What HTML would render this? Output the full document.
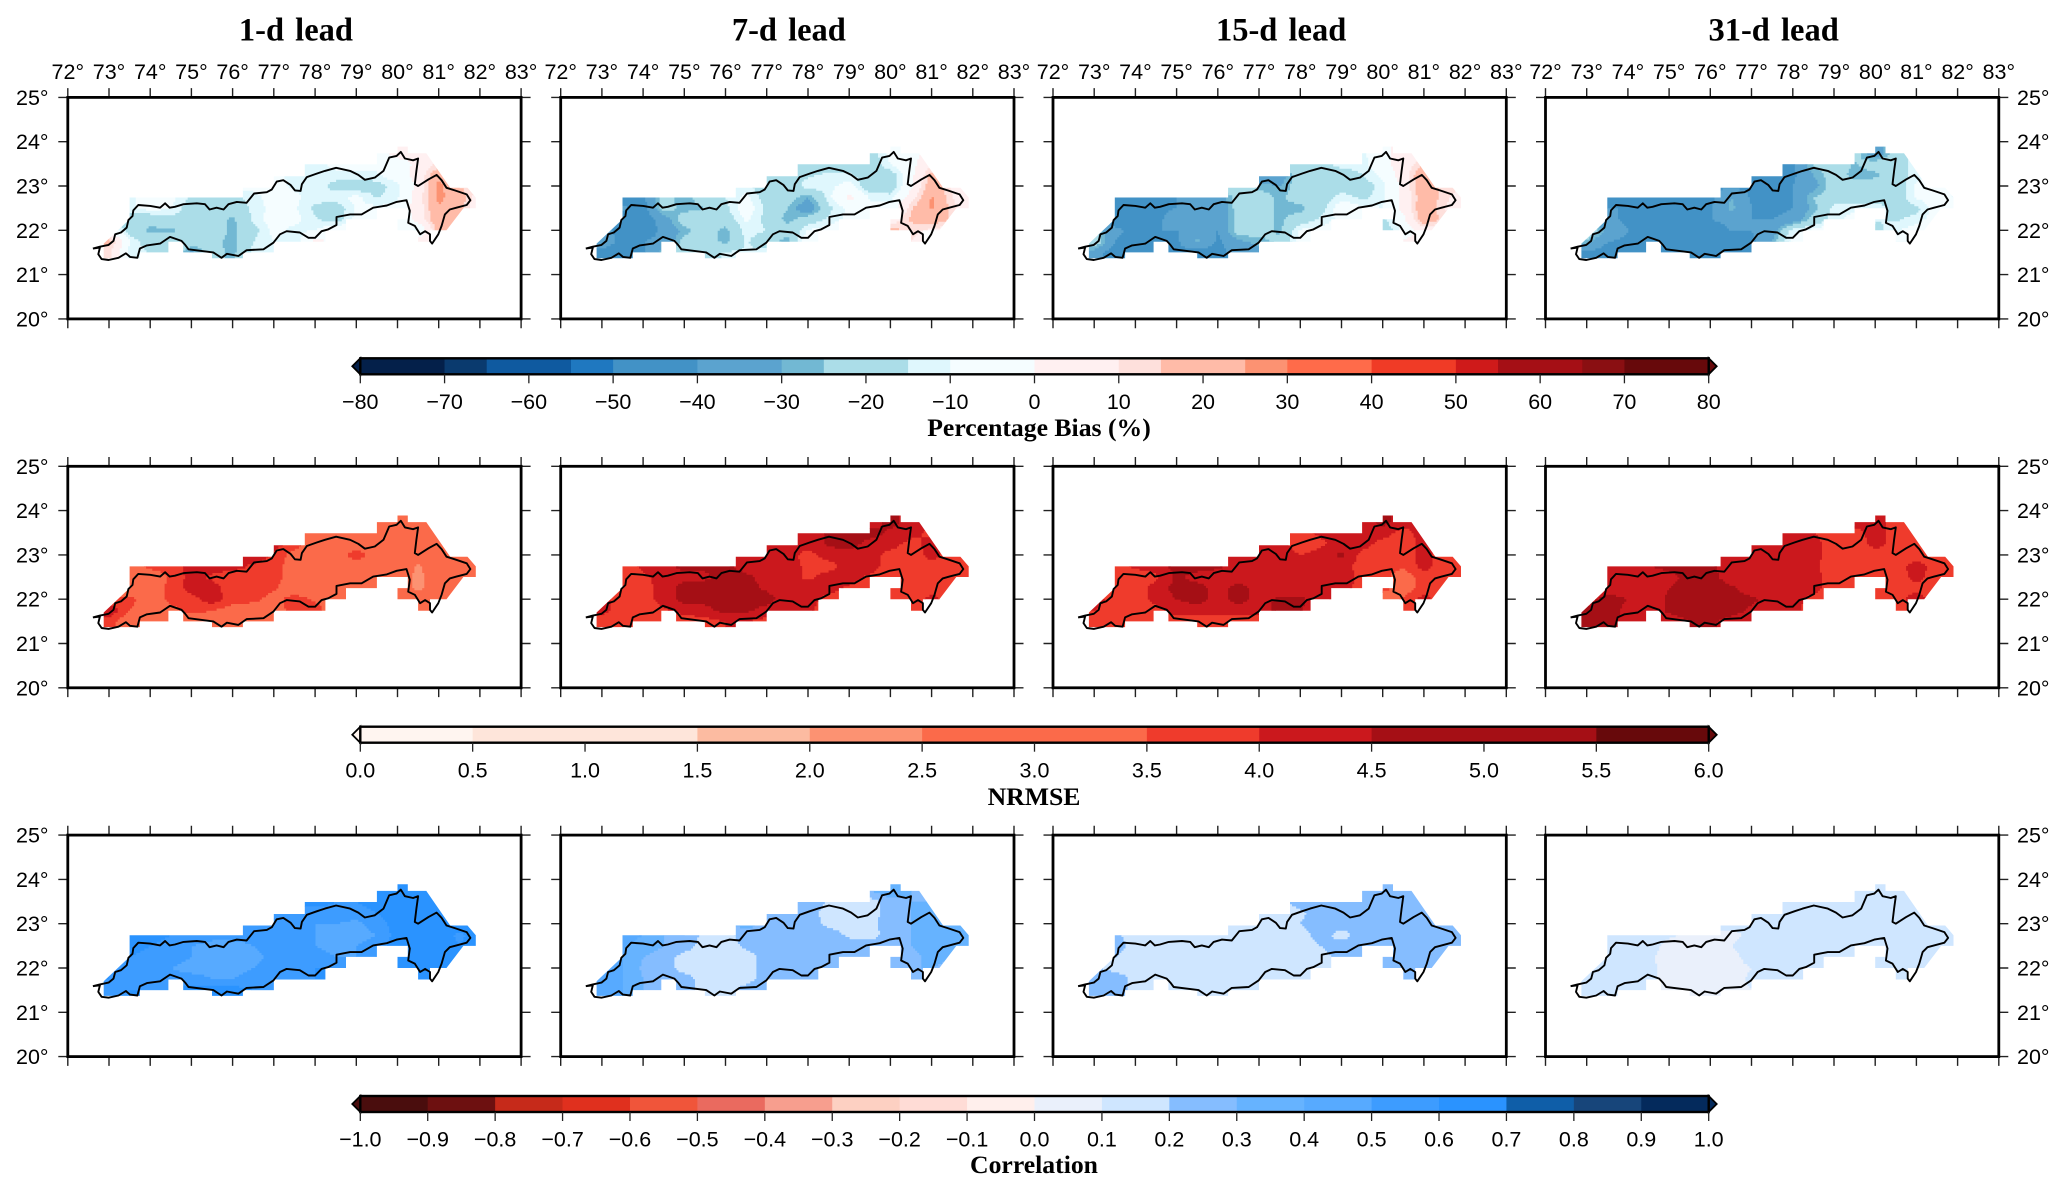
<!DOCTYPE html>
<html lang="en">
<head>
<meta charset="utf-8">
<title>Forecast skill maps by lead time</title>
<style>
html,body{margin:0;padding:0;background:#fff;}
svg{display:block;}
text{fill:#000;}
.tick-label{font-family:"Liberation Sans",sans-serif;font-size:21.5px;}
.title{font-family:"Liberation Serif",serif;font-weight:bold;font-size:32.5px;word-spacing:3px;}
.bar-title{font-family:"Liberation Serif",serif;font-weight:bold;font-size:25.7px;}
</style>
</head>
<body>
<svg id="figure" width="2067" height="1192" viewBox="0 0 2067 1192" xmlns="http://www.w3.org/2000/svg"></svg>
<script>
const leadTitles = ["1-d lead", "7-d lead", "15-d lead", "31-d lead"];
const lonTicks = [72,73,74,75,76,77,78,79,80,81,82,83];
const latTicks = [25,24,23,22,21,20];

const latRows = [23.75,23.5,23.25,23,22.75,22.5,22.25,22,21.75,21.5];
const rowStartLon = [79.5,77.5,77,76,73.5,73.5,73.5,73,73,73];

const biasEdges = [-80,-70,-65,-55,-50,-40,-30,-25,-15,-10,0,10,15,25,30,40,50,55,65,70,80];
const biasColors = ["#04204a","#0a3a6e","#0f5aa0","#1f78c0","#4292c6","#5ba3cf","#72b8d3","#abdde8","#dff7fd","#f5fdff","#fff0f1","#fee0dc","#ffbba8","#fc9272","#ff6b4a","#f03b26","#cf1a1a","#a50f15","#8a0f12","#67090b"];
const biasTicks = [-80,-70,-60,-50,-40,-30,-20,-10,0,10,20,30,40,50,60,70,80];

const nrmseEdges = [0,0.5,1.5,2,2.5,3.5,4,4.5,5.5,6];
const nrmseColors = ["#fff5f0","#fee5da","#fcbba1","#fc9272","#fb6a4a","#ef3b2c","#cb181d","#a50f15","#67090b"];
const nrmseTicks = [0,0.5,1,1.5,2,2.5,3,3.5,4,4.5,5,5.5,6];

const corrEdges = [-1,-0.9,-0.8,-0.7,-0.6,-0.5,-0.4,-0.3,-0.2,-0.1,0,0.1,0.2,0.3,0.4,0.5,0.6,0.7,0.8,0.9,1];
const corrColors = ["#4a0d0d","#6d1010","#c62a1a","#e0301e","#f0553a","#ea6a5f","#f79e8e","#fdd0c2","#ffdcd6","#ffefec","#eaf0fb","#cfe6ff","#85bdff","#66b3ff","#57aaff","#3d9cff","#2a93ff","#0f5ea8","#17457a","#042a5c"];
const corrTicks = [-1,-0.9,-0.8,-0.7,-0.6,-0.5,-0.4,-0.3,-0.2,-0.1,0,0.1,0.2,0.3,0.4,0.5,0.6,0.7,0.8,0.9,1];

const bias1d = [
[-5,5,3,2],
[-8,-12,-8,-6,-8,-6,3,12],
[-8,-12,-12,-12,-12,-11,-5,4,22,5],
[-5,-8,-8,-11,-12,-18,-21,-18,-12,3,28,14],
[-11,-8,-8,-16,-18,-18,-12,-7,-9,-12,-12,-8,-16,-11,5,27,20,3],
[-11,-8,-10,-20,-20,-20,-14,-7,-9,-17,-20,-9,-8,-8,5,24,18,2],
[-20,-22,-17,-20,-21,-27,-13,-7,-8,-14,-20,-8,-6,-10,4,22,18,2],
[-2,-20,-27,-27,-20,-20,-27,-18,-8,-12,-10,-3,-3,-3,-8,-12,20,18],
[18,-10,-20,-20,-20,-22,-28,-15,-10,-15,3,-3,-3,-3,-3,5,3],
[12,-13,-15,-18,-32,-22,-27,-13,-11]];
const bias7d = [
[-20,-8,-5,5],
[-18,-18,-18,-18,-20,-10,-3,8],
[-22,-20,-16,-14,-14,-20,-20,-3,18,5],
[-14,-13,-22,-20,-12,-12,-7,-22,-20,-3,22,8],
[-45,-42,-22,-28,-20,-15,-8,-20,-20,-30,-12,3,-11,-13,5,26,10,4],
[-38,-45,-21,-28,-25,-17,-5,-17,-25,-38,-17,-8,-8,-7,14,26,12,2],
[-45,-47,-35,-20,-18,-20,-9,-18,-28,-20,-14,-8,-5,3,16,20,14,0],
[-35,-45,-45,-38,-28,-20,-28,-12,-15,-22,-10,-6,-3,-3,18,12,8,5],
[-36,-42,-40,-38,-22,-20,-28,-14,-22,-28,-3,-3,-3,-3,5,10,5],
[-42,-48,-42,-25,-20,-18,-14,-14,-12]];
const bias15d = [
[-12,-3,4,4],
[-12,-18,-18,-12,-13,-3,5,14],
[-38,-36,-20,-20,-20,-15,-8,5,24,6],
[-18,-18,-28,-30,-20,-20,-20,-20,-12,3,24,12],
[-45,-42,-42,-40,-40,-37,-20,-20,-27,-20,-20,-12,-17,-12,3,21,12,4],
[-42,-46,-42,-40,-40,-40,-20,-20,-27,-28,-18,-5,-8,-10,3,22,10,0],
[-45,-47,-42,-36,-40,-40,-22,-20,-27,-20,-14,-8,-8,-18,-3,22,12,0],
[-25,-38,-42,-40,-40,-40,-40,-20,-20,-27,-9,-8,-5,-3,-22,-8,5,0],
[-18,-40,-45,-42,-42,-28,-42,-32,-28,-22,-6,-3,-3,-3,-3,2,3],
[-35,-47,-42,-42,-42,-45,-45,-34,-34]];
const bias31d = [
[-20,-38,-20,-12],
[-42,-42,-24,-20,-26,-20,-20,-11],
[-44,-40,-42,-30,-20,-28,-27,-20,-12,-8],
[-42,-42,-42,-42,-40,-34,-20,-20,-20,-20,-9,-6],
[-44,-45,-45,-42,-42,-42,-30,-42,-40,-40,-25,-20,-20,-20,-20,-9,-6,-12],
[-40,-40,-40,-42,-44,-42,-28,-40,-42,-40,-28,-12,-11,-11,-18,-17,-6,-3],
[-38,-42,-40,-44,-46,-40,-38,-40,-40,-38,-22,-12,-8,-14,-16,-13,-6,-3],
[-15,-33,-40,-40,-46,-47,-44,-40,-40,-35,-12,-8,-5,-3,-18,-11,-6,-3],
[-28,-40,-42,-42,-42,-46,-47,-42,-42,-30,-6,-3,-3,-3,-3,-8,-8],
[-42,-45,-42,-42,-42,-42,-42,-42,-42]];

const nrmse1d = [
[3,3,3,3],
[3,3,3,3,3,3,3,3],
[4.2,3.8,3,3,3,3,3,3,3,3],
[3.8,4.3,3.9,3.2,3,3,3.9,3,3,2.7,3,3],
[3,3.7,3.7,4.2,4.2,4.2,3.9,3.8,3.1,3,3,3,3,3,2.4,3,3,3],
[3,3,3.6,4.2,3.9,3.7,3.7,3.7,3.2,3.4,3.2,3,3,3,2.3,3,3,3],
[3,3.1,3.7,4.2,4.2,3.7,3.8,3.6,3,3,3,3,3,3,2.3,3,3,3],
[3.6,3.7,3,3.7,3.8,4.3,3.7,3.7,3.2,3.8,3.4,3,3,3,3,3,3,3],
[4.4,3.5,3.1,3.3,3.7,3.5,3.2,3,3,3.9,3.8,3,3,3,3,3,3],
[3.7,3,3,3,3,3,3,3,3]];
const nrmse7d = [
[4.2,4.7,4.2,4.2],
[4.2,4.2,4.6,4.7,4.7,4.4,4.2,3.8],
[4.2,4.2,4.2,4.6,4.7,4.3,4.2,3.8,4.2,3.7],
[4.2,4.2,4.3,4.2,3.8,4.2,4.2,4.2,3.8,3.7,4.2,3.7],
[3.7,4.1,4.4,4.6,4.6,4.6,4.3,4.2,4.2,3.9,3.8,4.2,4.2,3.8,3.6,3.8,3.7,3.7],
[3.7,3.9,4.2,4.4,4.4,4.7,4.6,4.3,4.2,3.9,4.2,4.2,3.9,3.7,3.6,3.7,3.7,3.7],
[3.7,3.8,4.2,4.7,4.7,4.8,4.7,4.4,4.2,4.2,4.2,3.9,3.7,3.7,3.6,3.7,3.8,3.7],
[4.2,3.7,3.8,4.2,4.7,4.7,4.8,4.7,4.7,4.2,4.2,3.8,3.7,3.7,3.7,3.7,4.2,3.7],
[4.2,3.7,3.7,3.9,4.2,4.3,4.7,4.6,4.3,4.2,4.1,3.7,3.7,3.7,3.7,3.7,4],
[3.7,3.7,3.7,3.7,3.7,3.8,4,4,3.8]];
const nrmse15d = [
[4.2,4.7,4.2,4.2],
[3.8,3.8,4.1,4.2,4.2,4.2,3.8,4.2],
[4.5,4.2,3.7,3.9,4.2,4.2,3.8,3.7,4.2,3.9],
[4.1,4.2,4.2,4.2,4,4.2,4.6,3.8,3.7,3.7,4.2,3.7],
[3.7,4.1,4.2,4.7,4.7,4.6,4.2,4.2,4,4.2,4.2,4.2,3.8,3.7,3.6,4.2,3.7,3.7],
[3.7,3.7,3.9,4.6,4.3,4.2,4.2,4.2,4.2,4.2,4.2,4.2,3.9,3.7,3.1,3.8,3.7,3.7],
[3.7,3.7,4.2,4.7,4.7,4.3,4.7,4.3,4.2,4.2,4.2,4.2,3.8,3.7,3.1,3.8,3.7,3.7],
[4.2,3.8,3.7,4.2,4.5,4.7,4.3,4.7,4.3,4.6,4.6,4.2,3.8,3.7,3,3.6,4.2,3.7],
[4,3.7,3.7,3.8,4.2,4.2,4.2,4.2,4.2,4.7,4.6,3.8,3.7,3.7,3.7,3.7,3.7],
[3.6,3.7,3.7,3.7,3.8,3.8,3.8,3.7,3.7]];
const nrmse31d = [
[4.2,4.2,3.8,3.7],
[4.2,4.2,4,3.7,3.8,4.2,3.8,3.7],
[4.2,4.2,4.2,4.2,3.7,3.7,4.2,3.8,3.7,3.7],
[4.2,4.2,4.2,4.2,4.2,4.2,3.7,3.7,3.7,3.7,3.7,3.7],
[4.4,4.5,4.5,4.6,4.6,4.6,4.2,4.2,4.2,4.2,4.1,3.7,3.7,3.7,3.8,4.2,3.8,3.7],
[4.2,4.2,4.2,4.4,4.6,4.7,4.2,4.2,4.2,4.2,4.2,3.7,3.7,3.7,3.7,4.2,3.7,3.7],
[4.2,4.2,4.2,4.5,4.7,4.8,4.6,4.2,4.2,4.2,4.2,3.7,3.7,3.7,3.7,3.8,3.7,3.7],
[4.3,4.7,4.5,4.2,4.6,4.8,4.8,4.7,4.6,4.3,4.2,3.8,3.7,3.7,3.7,3.8,4.3,3.7],
[4.6,4.8,4.3,4.2,4.6,4.8,4.8,4.7,4.4,4.2,4.2,3.7,3.7,3.7,3.7,3.7,3.8],
[4.7,4.7,4.3,4.2,4.2,4.5,4.6,4.3,4.2]];

const corr1d = [
[0.65,0.65,0.65,0.6],
[0.6,0.65,0.6,0.6,0.65,0.65,0.65,0.65],
[0.6,0.6,0.55,0.55,0.55,0.6,0.65,0.65,0.65,0.65],
[0.55,0.55,0.6,0.55,0.5,0.5,0.47,0.55,0.65,0.65,0.65,0.65],
[0.65,0.65,0.6,0.6,0.55,0.55,0.55,0.55,0.55,0.5,0.45,0.45,0.5,0.65,0.65,0.65,0.58,0.65],
[0.65,0.6,0.55,0.5,0.45,0.45,0.5,0.55,0.55,0.5,0.45,0.5,0.55,0.65,0.65,0.65,0.6,0.65],
[0.6,0.55,0.55,0.5,0.45,0.45,0.45,0.55,0.55,0.55,0.5,0.5,0.6,0.65,0.65,0.65,0.65,0.6],
[0.6,0.55,0.55,0.5,0.45,0.45,0.45,0.5,0.55,0.55,0.6,0.6,0.6,0.65,0.65,0.65,0.65,0.6],
[0.6,0.6,0.55,0.55,0.55,0.5,0.5,0.55,0.6,0.6,0.6,0.6,0.6,0.6,0.6,0.65,0.6],
[0.55,0.6,0.6,0.6,0.65,0.65,0.65,0.6,0.6]];
const corr7d = [
[0.3,0.4,0.3,0.25],
[0.3,0.3,0.18,0.15,0.15,0.25,0.3,0.3],
[0.3,0.25,0.25,0.15,0.15,0.15,0.25,0.3,0.35,0.3],
[0.3,0.35,0.25,0.25,0.25,0.17,0.15,0.15,0.28,0.3,0.38,0.35],
[0.45,0.4,0.3,0.3,0.15,0.15,0.25,0.25,0.25,0.25,0.25,0.18,0.15,0.25,0.3,0.38,0.38,0.35],
[0.42,0.35,0.3,0.25,0.15,0.15,0.22,0.25,0.25,0.25,0.25,0.25,0.25,0.25,0.3,0.4,0.4,0.35],
[0.4,0.3,0.25,0.15,0.15,0.15,0.15,0.25,0.25,0.25,0.25,0.25,0.25,0.25,0.25,0.35,0.3,0.3],
[0.4,0.4,0.28,0.25,0.15,0.15,0.15,0.15,0.25,0.25,0.25,0.25,0.25,0.25,0.25,0.3,0.3,0.25],
[0.42,0.4,0.3,0.25,0.25,0.15,0.15,0.15,0.25,0.25,0.25,0.25,0.25,0.25,0.25,0.3,0.25],
[0.4,0.4,0.3,0.25,0.25,0.15,0.15,0.25,0.3]];
const corr15d = [
[0.25,0.28,0.25,0.2],
[0.15,0.25,0.25,0.25,0.25,0.25,0.25,0.25],
[0.15,0.15,0.18,0.25,0.25,0.25,0.25,0.25,0.28,0.25],
[0.15,0.15,0.15,0.15,0.2,0.25,0.25,0.25,0.25,0.25,0.25,0.25],
[0.22,0.15,0.15,0.15,0.15,0.15,0.15,0.15,0.15,0.15,0.25,0.15,0.25,0.25,0.25,0.25,0.25,0.25],
[0.25,0.15,0.15,0.15,0.15,0.15,0.15,0.15,0.15,0.15,0.2,0.25,0.25,0.25,0.25,0.25,0.25,0.22],
[0.2,0.15,0.15,0.15,0.15,0.15,0.15,0.15,0.15,0.15,0.15,0.25,0.25,0.25,0.25,0.25,0.25,0.2],
[0.22,0.15,0.15,0.15,0.15,0.15,0.15,0.15,0.15,0.15,0.15,0.15,0.15,0.15,0.25,0.25,0.25,0.2],
[0.28,0.28,0.15,0.15,0.15,0.15,0.15,0.15,0.15,0.15,0.15,0.15,0.15,0.15,0.15,0.2,0.25],
[0.28,0.28,0.15,0.15,0.15,0.15,0.15,0.15,0.15]];
const corr31d = [
[0.15,0.15,0.15,0.15],
[0.15,0.15,0.15,0.15,0.15,0.15,0.15,0.15],
[0.15,0.15,0.15,0.15,0.15,0.15,0.15,0.15,0.15,0.15],
[0.15,0.15,0.15,0.15,0.15,0.15,0.15,0.15,0.15,0.15,0.15,0.15],
[0.15,0.15,0.15,0.12,0.06,0.06,0.06,0.13,0.15,0.15,0.15,0.15,0.15,0.15,0.15,0.15,0.15,0.15],
[0.15,0.15,0.15,0.06,0.05,0.05,0.1,0.15,0.15,0.15,0.15,0.15,0.15,0.15,0.15,0.15,0.15,0.15],
[0.15,0.15,0.12,0.05,0.05,0.05,0.06,0.15,0.15,0.15,0.15,0.15,0.15,0.15,0.15,0.15,0.21,0.15],
[0.15,0.15,0.15,0.13,0.05,0.05,0.05,0.05,0.1,0.15,0.15,0.15,0.15,0.15,0.15,0.15,0.15,0.15],
[0.15,0.15,0.15,0.13,0.05,0.05,0.05,0.05,0.12,0.15,0.15,0.15,0.15,0.15,0.15,0.15,0.15],
[0.15,0.15,0.15,0.14,0.06,0.05,0.05,0.05,0.1]];

const outlineLon = [72.61,72.78,72.99,73.11,73.15,73.29,73.43,73.47,73.57,73.59,73.71,74,74.24,74.36,74.47,74.6,74.81,75.13,75.33,75.44,75.61,75.78,75.9,76.1,76.34,76.52,76.83,76.95,77.07,77.23,77.41,77.51,77.65,77.68,77.8,78.04,78.24,78.51,78.85,79.05,79.21,79.45,79.66,79.8,79.98,80.08,80.18,80.38,80.5,80.46,80.42,80.5,80.75,80.95,81.07,81.19,81.39,81.68,81.77,81.68,81.43,81.27,81.15,81.07,80.99,80.84,80.79,80.79,80.67,80.55,80.42,80.26,80.3,80.22,79.98,79.74,79.41,79.13,78.85,78.52,78.52,78.32,78.16,78,77.84,77.63,77.31,77.15,76.99,76.75,76.34,76.14,75.86,75.73,75.53,74.93,74.85,74.76,74.48,74.24,73.92,73.75,73.69,73.51,73.41,73.23,72.99,72.82,72.74,72.78,72.61];
const outlineLat = [21.59,21.63,21.67,21.76,21.91,21.95,22.06,22.23,22.32,22.45,22.57,22.55,22.51,22.61,22.51,22.53,22.59,22.61,22.59,22.47,22.51,22.47,22.59,22.64,22.62,22.83,22.86,22.92,23.1,23.13,23.02,22.9,22.89,23.04,23.2,23.28,23.34,23.41,23.34,23.25,23.14,23.19,23.34,23.64,23.68,23.77,23.62,23.58,23.62,23.34,23.04,23,23.15,23.25,23.13,22.96,22.9,22.81,22.68,22.57,22.51,22.47,22.36,22.1,21.91,21.7,21.76,21.91,21.98,21.91,22.1,22.17,22.44,22.68,22.64,22.56,22.51,22.36,22.36,22.3,22.12,22.02,21.98,21.83,21.83,21.95,21.98,21.91,21.72,21.57,21.55,21.42,21.47,21.38,21.5,21.57,21.67,21.76,21.85,21.7,21.66,21.59,21.38,21.4,21.48,21.38,21.33,21.35,21.46,21.61,21.59];

const maskLon = [72.87,73.5,73.5,76.25,76.25,77,77,77.75,77.75,79.5,79.5,80,80,80.25,80.25,80.7,81.28,81.7,81.9,81.9,81.6,81.19,80.79,80.79,80.5,80.5,80,80,80.25,80.25,79.5,79.5,78.75,78.75,78.25,78.25,77,77,76.25,76.25,75.5,75.5,74.8,74.8,74.44,74.44,73.75,73.75,72.87];
const maskLat = [21.7,22.25,22.74,22.74,22.96,22.96,23.22,23.22,23.49,23.49,23.74,23.74,23.89,23.89,23.74,23.74,22.96,22.96,22.74,22.5,22.5,22,22,21.74,21.74,22,22,22.25,22.25,22.5,22.5,22.25,22.25,22,22,21.74,21.74,21.5,21.5,21.37,21.37,21.5,21.5,21.74,21.74,21.5,21.5,21.37,21.37];

const panelLefts = [67.8,560.7,1053,1545.5];
const panelWidth = 453.3;
const panelHeight = 221.5;
const metrics = [
  {key:"percentage-bias", top:97.4, panels:[bias1d,bias7d,bias15d,bias31d], edges:biasEdges, colors:biasColors, ticks:biasTicks, digits:0, title:"Percentage Bias (%)", barTop:358.3, titleX:1039, titleBase:436},
  {key:"nrmse", top:466.3, panels:[nrmse1d,nrmse7d,nrmse15d,nrmse31d], edges:nrmseEdges, colors:nrmseColors, ticks:nrmseTicks, digits:1, title:"NRMSE", barTop:726.7, titleX:1034, titleBase:805},
  {key:"correlation", top:835.1, panels:[corr1d,corr7d,corr15d,corr31d], edges:corrEdges, colors:corrColors, ticks:corrTicks, digits:1, title:"Correlation", barTop:1096, titleX:1034, titleBase:1173}
];
const barLeft = 360.3, barRight = 1708.7, barHeight = 16;

const svg = document.getElementById("figure");
const NS = "http://www.w3.org/2000/svg";
function mk(parent, tag, attrs, txt){
  const el = document.createElementNS(NS, tag);
  for (const k in attrs) el.setAttribute(k, attrs[k]);
  if (txt !== undefined) el.textContent = txt;
  parent.appendChild(el);
  return el;
}
function fieldAt(grid, lon, lat){
  function rowVal(r){
    const row = grid[r];
    const p = (lon - rowStartLon[r]) / 0.5;
    if (p <= 0) return row[0];
    if (p >= row.length - 1) return row[row.length - 1];
    const i = Math.floor(p);
    return row[i] + (row[i+1] - row[i]) * (p - i);
  }
  if (lat >= latRows[0]) return rowVal(0);
  const last = latRows.length - 1;
  if (lat <= latRows[last]) return rowVal(last);
  let r = 0;
  while (lat < latRows[r+1]) r++;
  const t = (latRows[r] - lat) / (latRows[r] - latRows[r+1]);
  return rowVal(r) + (rowVal(r+1) - rowVal(r)) * t;
}
function classOf(v, edges){
  for (let i = 0; i < edges.length - 1; i++) if (v < edges[i+1]) return i;
  return edges.length - 2;
}
function fmt(v, digits){
  const s = Math.abs(v).toFixed(digits);
  return (v < 0 ? "\u2212" : "") + s;
}

/* column titles */
leadTitles.forEach(function(t, c){
  const el = mk(svg, "text", {x: panelLefts[c] + panelWidth/2 + 1.5, y: 40.7, "text-anchor":"middle", class:"title"}, t);
  
  
});

metrics.forEach(function(m, rowIdx){
  const rowGroup = mk(svg, "g", {});
  
  

  m.panels.forEach(function(grid, c){
    const x0 = panelLefts[c], y0 = m.top;
    const xS = function(lon){ return x0 + (lon - 72) / 11 * panelWidth; };
    const yS = function(lat){ return y0 + (25 - lat) / 5 * panelHeight; };
    const g = mk(rowGroup, "g", {});
    
    

    /* mask clip */
    const clipId = "mask-" + rowIdx + "-" + c;
    const clip = mk(g, "clipPath", {id: clipId});
    mk(clip, "polygon", {points: maskLon.map(function(l,i){ return xS(l).toFixed(1) + "," + yS(maskLat[i]).toFixed(1); }).join(" ")});

    /* filled field: sampled on a fine lon/lat raster, merged into one path per colour class */
    const step = 0.05;
    const dByClass = {};
    for (let lat = 23.9; lat > 21.3; lat -= step){
      const yTop = yS(lat), yBot = yS(lat - step);
      let runClass = -1, runStart = 0;
      for (let lon = 72.85; lon <= 81.95 + step; lon += step){
        const k = lon > 81.95 ? -2 : classOf(fieldAt(grid, lon + step/2, lat - step/2), m.edges);
        if (k !== runClass){
          if (runClass >= 0){
            const xa = xS(runStart), xb = xS(lon) + 0.4;
            dByClass[runClass] = (dByClass[runClass] || "") + "M" + xa.toFixed(1) + " " + yTop.toFixed(1) + "H" + xb.toFixed(1) + "V" + (yBot + 0.4).toFixed(1) + "H" + xa.toFixed(1) + "Z";
          }
          runClass = k;
          runStart = lon;
        }
      }
    }
    const fieldG = mk(g, "g", {"clip-path": "url(#" + clipId + ")"});
    
    
    Object.keys(dByClass).forEach(function(k){
      const band = mk(fieldG, "path", {d: dByClass[k], fill: m.colors[k]});
      
      
    });

    /* basin outline */
    const outline = mk(g, "polyline", {
      points: outlineLon.map(function(l,i){ return xS(l).toFixed(1) + "," + yS(outlineLat[i]).toFixed(1); }).join(" "),
      fill: "none", stroke: "#000", "stroke-width": 1.9, "stroke-linejoin": "round"
    });
    
    

    /* ticks */
    let tickD = "";
    lonTicks.forEach(function(l){
      tickD += "M" + xS(l).toFixed(1) + " " + (y0 - 9.3) + "V" + y0 + "M" + xS(l).toFixed(1) + " " + (y0 + panelHeight) + "v9.3";
    });
    latTicks.forEach(function(l){
      tickD += "M" + (x0 - 9.5) + " " + yS(l).toFixed(1) + "H" + x0 + "M" + (x0 + panelWidth) + " " + yS(l).toFixed(1) + "h9.5";
    });
    const ticks = mk(g, "path", {d: tickD, stroke: "#222", "stroke-width": 1.4, fill: "none"});
    
    

    /* frame */
    const frame = mk(g, "rect", {x: x0, y: y0, width: panelWidth, height: panelHeight, fill: "none", stroke: "#000", "stroke-width": 2.8});
    
    

    /* longitude labels (top row only) */
    if (rowIdx === 0){
      lonTicks.forEach(function(l){
        const t = mk(g, "text", {x: xS(l), y: 79, "text-anchor": "middle", class: "tick-label"}, l + "\u00b0");
        
        
      });
    }
    /* latitude labels (outer columns) */
    if (c === 0 || c === 3){
      latTicks.forEach(function(l){
        const t = mk(g, "text", c === 0
          ? {x: 48.5, y: yS(l) + 7.5, "text-anchor": "end", class: "tick-label"}
          : {x: 2017, y: yS(l) + 7.5, "text-anchor": "start", class: "tick-label"}, l + "\u00b0");
        
        
      });
    }
  });

  /* colour bar */
  const lo = m.edges[0], hi = m.edges[m.edges.length - 1];
  const barX = function(v){ return barLeft + (v - lo) / (hi - lo) * (barRight - barLeft); };
  const bar = mk(rowGroup, "g", {});
  
  
  m.colors.forEach(function(col, i){
    const seg = mk(bar, "rect", {x: barX(m.edges[i]), y: m.barTop, width: barX(m.edges[i+1]) - barX(m.edges[i]) + 0.4, height: barHeight, fill: col});
    
    
  });
  const mid = m.barTop + barHeight/2, bot = m.barTop + barHeight;
  const leftTri = mk(bar, "path", {d: "M" + barLeft + " " + m.barTop + "L" + (barLeft - 8) + " " + mid + "L" + barLeft + " " + bot + "Z", fill: m.colors[0], stroke: "#000", "stroke-width": 1.8});
  
  
  const rightTri = mk(bar, "path", {d: "M" + barRight + " " + m.barTop + "L" + (barRight + 8) + " " + mid + "L" + barRight + " " + bot + "Z", fill: m.colors[m.colors.length-1], stroke: "#000", "stroke-width": 1.8});
  
  
  const barFrame = mk(bar, "rect", {x: barLeft, y: m.barTop, width: barRight - barLeft, height: barHeight, fill: "none", stroke: "#000", "stroke-width": 2.4});
  
  
  m.ticks.forEach(function(v){
    const tk = mk(bar, "line", {x1: barX(v), x2: barX(v), y1: bot, y2: bot + 9, stroke: "#222", "stroke-width": 1.3});
    
    
    const lb = mk(bar, "text", {x: barX(v), y: bot + 34.7, "text-anchor": "middle", class: "tick-label"}, fmt(v, m.digits));
    
    
  });
  const bt = mk(bar, "text", {x: m.titleX, y: m.titleBase, "text-anchor": "middle", class: "bar-title"}, m.title);
  
  
});
</script>
</body>
</html>
